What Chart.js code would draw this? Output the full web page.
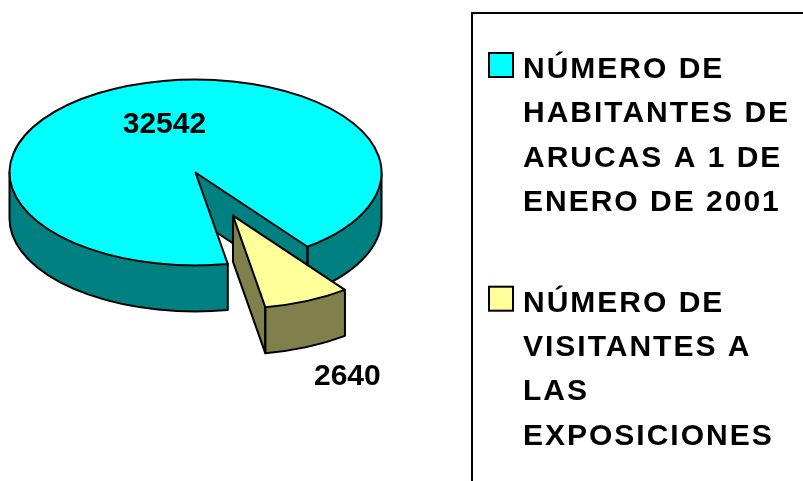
<!DOCTYPE html>
<html><head><meta charset="utf-8">
<script src="https://cdn.jsdelivr.net/npm/chart.js@4.4.0/dist/chart.umd.min.js"></script>
<style>html,body{margin:0;padding:0;background:#fff;overflow:hidden}#wrap{position:relative;width:803px;height:481px}</style>
</head><body><div id="wrap"><canvas id="c" width="803" height="481"></canvas></div>
<script>
// ---- data ----
const categories = [
  ['NÚMERO DE', 'HABITANTES DE', 'ARUCAS A 1 DE', 'ENERO DE 2001'],
  ['NÚMERO DE', 'VISITANTES A', 'LAS', 'EXPOSICIONES']
];
const values = [32542, 2640];
const valueLabels = ['32542', '2640'];

// ---- styles ----
const topColors = ['#00FFFF', '#FFFF99'];
const sideColors = ['#008080', '#80804D'];
const explode = [0, 0.505];          // fraction of radius
const S = 0.5;                       // vertical squish of the tilted pie
const DEPTH = 46;                    // thickness in px
const labelRadius = [0.54, 1.38];
const labelDepth = [0, 1];
const labelNudge = [[9, -2], [12, -3]];
const FONT = '"Liberation Sans", Arial, sans-serif';

const pie3d = {
  id: 'pie3d',
  beforeDatasetsDraw(chart) {
    const ctx = chart.ctx;
    const meta = chart.getDatasetMeta(0);
    chart.$geo = [];
    meta.data.forEach((arc, i) => {
      const R = arc.outerRadius;
      const a0 = arc.startAngle, a1 = arc.endAngle;
      const mid = (a0 + a1) / 2;
      const ex = explode[i] * R;
      const cx = arc.x + Math.cos(mid) * ex;
      const cy = arc.y + Math.sin(mid) * ex * S;
      chart.$geo.push({cx, cy, R, mid});
      const rx = R, ry = R * S;
      const P = (a, h) => [cx + rx * Math.cos(a), cy + ry * Math.sin(a) + h];
      const drawLayer = (d, color) => {
        const fake = Object.create(arc);
        fake.options = Object.assign({}, arc.options, {backgroundColor: color, borderWidth: 0, offset: 0});
        ctx.save();
        ctx.translate(cx, cy + d);
        ctx.scale(1, S);
        ctx.translate(-arc.x, -arc.y);
        fake.draw(ctx);
        ctx.restore();
      };
      // side (extrusion)
      for (let d = DEPTH; d >= 0.5; d -= 0.5) drawLayer(d, sideColors[i]);
      ctx.save();
      ctx.lineWidth = 2; ctx.strokeStyle = '#000'; ctx.lineJoin = 'round'; ctx.lineCap = 'round';
      // curved front side outlines
      for (let k = -1; k <= 2; k++) {
        const lo = Math.max(a0, 2 * Math.PI * k), hi = Math.min(a1, 2 * Math.PI * k + Math.PI);
        if (hi > lo + 1e-6) {
          ctx.beginPath();
          ctx.moveTo(...P(lo, 0)); ctx.lineTo(...P(lo, DEPTH));
          ctx.ellipse(cx, cy + DEPTH, rx, ry, 0, lo, hi);
          ctx.lineTo(...P(hi, 0));
          ctx.stroke();
        }
      }
      // visible radial faces
      [[a0, Math.cos(a0) < 0], [a1, Math.cos(a1) > 0]].forEach(([a, vis]) => {
        if (!vis) return;
        ctx.beginPath();
        ctx.moveTo(cx, cy); ctx.lineTo(cx, cy + DEPTH); ctx.lineTo(...P(a, DEPTH)); ctx.lineTo(...P(a, 0));
        ctx.stroke();
      });
      ctx.restore();
      // top face
      drawLayer(0, topColors[i]);
      ctx.save();
      ctx.lineWidth = 2; ctx.strokeStyle = '#000'; ctx.lineJoin = 'round';
      ctx.beginPath();
      ctx.moveTo(cx, cy);
      ctx.ellipse(cx, cy, rx, ry, 0, a0, a1);
      ctx.closePath();
      ctx.stroke();
      ctx.restore();
    });
    return false;
  },
  afterDraw(chart) {
    const ctx = chart.ctx;
    // value labels
    ctx.save();
    ctx.fillStyle = '#000';
    ctx.font = 'bold 30px ' + FONT;
    ctx.textAlign = 'center';
    ctx.textBaseline = 'middle';
    (chart.$geo || []).forEach((g, i) => {
      const r = g.R * labelRadius[i];
      const x = g.cx + Math.cos(g.mid) * r + labelNudge[i][0];
      const y = g.cy + Math.sin(g.mid) * r * S + labelDepth[i] * DEPTH + labelNudge[i][1];
      ctx.fillText(valueLabels[i], x, y);
    });
    ctx.restore();

    // legend
    ctx.save();
    ctx.lineWidth = 2; ctx.strokeStyle = '#000';
    ctx.strokeRect(472, 13, 420, 520);
    ctx.font = 'bold 30px ' + FONT;
    ctx.letterSpacing = '2px';
    ctx.textAlign = 'left';
    ctx.textBaseline = 'alphabetic';
    const lineH = 44.3, itemGap = 56.5;
    let base = 78;
    chart.data.labels.forEach((lines, i) => {
      ctx.fillStyle = chart.data.datasets[0].backgroundColor[i];
      ctx.fillRect(489, base - 25, 24, 24);
      ctx.strokeRect(489, base - 25, 24, 24);
      ctx.fillStyle = '#000';
      lines.forEach((t, j) => ctx.fillText(t, 523, base + j * lineH));
      base += lines.length * lineH + itemGap;
    });
    ctx.restore();
  }
};

new Chart(document.getElementById('c'), {
  type: 'pie',
  data: {
    labels: categories,
    datasets: [{ data: values, backgroundColor: topColors, borderWidth: 0 }]
  },
  options: {
    responsive: false,
    animation: false,
    events: [],
    rotation: 170,
    radius: 186,
    layout: { padding: { left: 0, top: 0, right: 412, bottom: 136 } },
    plugins: { legend: { display: false }, tooltip: { enabled: false } }
  },
  plugins: [pie3d]
});
</script>
</body></html>
